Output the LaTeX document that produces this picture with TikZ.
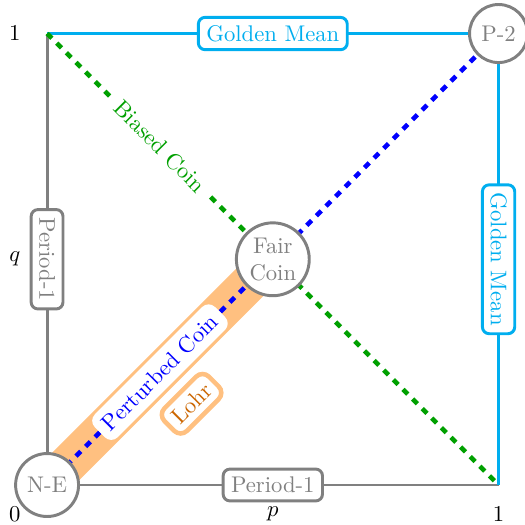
\documentclass[tikz,border=0pt]{standalone}
\usepackage{amsmath,amssymb}
\usetikzlibrary{calc}

\definecolor{gmblue}{RGB}{0,174,239}
\definecolor{bcgreen}{RGB}{0,160,0}
\definecolor{lohrband}{RGB}{255,192,128}
\definecolor{lohrtext}{RGB}{204,102,0}

\begin{document}
\begin{tikzpicture}[
    state/.style={circle,draw=gray,line width=1.3pt,fill=white,text=gray,align=center},
    edgebox/.style={rounded corners=3pt,draw=#1,line width=1.3pt,fill=white,text=#1,inner sep=3.5pt},
    coinlabel/.style={rounded corners=4pt,fill=white,text=#1,sloped,inner sep=3.5pt},
    coinline/.style={#1,dashed,line width=2pt}]
    \useasboundingbox (-0.73,-0.62) rectangle (7.41,7.52);
    \coordinate (o) at (0,0);
    \coordinate (tl) at (0,7);
    \coordinate (tr) at (7,7);
    \coordinate (br) at (7,0);
    \coordinate (c) at (3.5,3.5);
    % Lohr band
    \draw[lohrband,line width=17pt] (o) -- (c);
    % edges of the square
    \draw[gray,line width=1.3pt] (o) -- node[edgebox=gray,rotate=-90] (left) {Period-1} (tl);
    \draw[gray,line width=1.3pt] (o) -- node[edgebox=gray] (bottom) {Period-1} (br);
    \draw[gmblue,line width=1.3pt] (tl) -- node[edgebox=gmblue] (top) {Golden Mean} (tr);
    \draw[gmblue,line width=1.3pt] (tr) -- node[edgebox=gmblue,rotate=-90] (right) {Golden Mean} (br);
    % diagonals
    \draw[coinline=bcgreen] (tl) -- node[pos=0.25,coinlabel=bcgreen] (biased) {Biased Coin} (br);
    \draw[coinline=blue] (o) -- node[pos=0.25,coinlabel=blue] (perturbed) {Perturbed Coin} (tr);
    \node[rounded corners=4pt,draw=lohrband,line width=2pt,fill=white,text=lohrtext,rotate=45,inner sep=3.5pt]
      (lohr) at ($(o)!0.5!(c)+(0.49,-0.49)$) {Lohr};
    % points
    \node[state] (ne) at (o) {N-E};
    \node[state] (p2) at (tr) {P-2};
    \node[state,inner sep=1pt,minimum size=1.13cm] (fair) at (c) {Fair\\Coin};
    % axes
    \node (q1) at (-0.5,7) {$1$};
    \node (q) at (-0.5,3.5) {$q$};
    \node (zero) at (-0.5,-0.46) {$0$};
    \node (p) at (3.5,-0.44) {$p$};
    \node (p1) at (7,-0.46) {$1$};
  \end{tikzpicture}
\end{document}
